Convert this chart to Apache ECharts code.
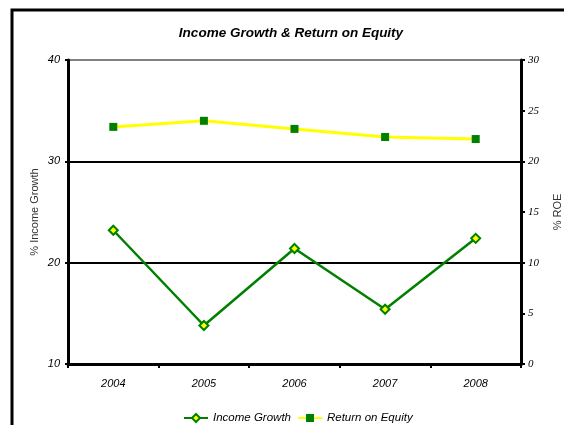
<!DOCTYPE html>
<html><head><meta charset="utf-8">
<script src="https://cdn.jsdelivr.net/npm/echarts@6/dist/echarts.min.js"></script>
<style>html,body{margin:0;padding:0;background:#fff;}#c{width:564px;height:425px;}</style>
</head><body><div id="c"></div>
<script>
var years = ['2004','2005','2006','2007','2008'];
var incomeGrowth = [23.2, 13.8, 21.4, 15.4, 22.4];
var returnOnEquity = [23.4, 24.0, 23.2, 22.4, 22.2];
var leftAxisRange = [10, 40, 10];
var rightAxisRange = [0, 30, 5];

var chart = echarts.init(document.getElementById('c'));
chart.setOption({
  animation: false,
  backgroundColor: '#fff',
  title: {
    text: 'Income Growth & Return on Equity',
    left: 286, top: 21, textAlign: 'center',
    textStyle: { fontFamily: 'Liberation Sans, sans-serif', fontStyle: 'italic', fontWeight: 'bold', fontSize: 13.5, color: '#000' }
  },
  graphic: [{
    type: 'polyline', silent: true,
    shape: { points: [[12, 440], [12, 10], [600, 10]] },
    style: { stroke: '#000', lineWidth: 3, fill: null }
  }],
  legend: {
    top: 412, left: 183, padding: 0, itemGap: 6, itemWidth: 24, itemHeight: 10,
    textStyle: { fontFamily: 'Liberation Sans, sans-serif', fontStyle: 'italic', fontSize: 11.5, color: '#000' },
    data: [{ name: 'Income Growth' }, { name: 'Return on Equity' }]
  },
  grid: { left: 68, right: 43, top: 60, bottom: 61, show: true, borderColor: '#808080', borderWidth: 2, outerBoundsMode: 'none', containLabel: false },
  xAxis: {
    type: 'category', data: years, boundaryGap: true,
    axisLine: { lineStyle: { color: '#000', width: 3 } },
    axisTick: { show: true, length: 4, lineStyle: { color: '#000', width: 2 } },
    axisLabel: { margin: 14, fontFamily: 'Liberation Sans, sans-serif', fontStyle: 'italic', fontSize: 11, color: '#000' },
    splitLine: { show: false }
  },
  yAxis: [{
    type: 'value', position: 'left', min: leftAxisRange[0], max: leftAxisRange[1], interval: leftAxisRange[2],
    name: '% Income Growth', nameLocation: 'middle', nameGap: 28, nameRotate: 90, nameMoveOverlap: false,
    nameTextStyle: { fontFamily: 'Liberation Sans, sans-serif', fontSize: 11, color: '#333' },
    axisLine: { show: true, lineStyle: { color: '#000', width: 3 } },
    axisTick: { show: true, length: 3, lineStyle: { color: '#000', width: 2 } },
    axisLabel: { margin: 8, fontFamily: 'Liberation Sans, sans-serif', fontStyle: 'italic', fontSize: 11, color: '#000' },
    splitLine: { show: true, showMinLine: false, showMaxLine: false, lineStyle: { color: '#000', width: 2 } }
  }, {
    type: 'value', position: 'right', min: rightAxisRange[0], max: rightAxisRange[1], interval: rightAxisRange[2],
    name: '% ROE', nameLocation: 'middle', nameGap: 31, nameRotate: 90,
    nameTextStyle: { fontFamily: 'Liberation Sans, sans-serif', fontSize: 11, color: '#333' },
    axisLine: { show: true, lineStyle: { color: '#000', width: 3 } },
    axisTick: { show: true, length: 4, lineStyle: { color: '#000', width: 2 } },
    axisLabel: { margin: 7, fontFamily: 'Liberation Serif, serif', fontStyle: 'italic', fontSize: 11, color: '#000' },
    splitLine: { show: false }
  }],
  series: [{
    name: 'Income Growth', type: 'line', yAxisIndex: 0, data: incomeGrowth,
    symbol: 'diamond', symbolSize: 9,
    lineStyle: { color: '#008000', width: 2.5 },
    itemStyle: { color: '#ffff00', borderColor: '#008000', borderWidth: 2 }
  }, {
    name: 'Return on Equity', type: 'line', yAxisIndex: 1, data: returnOnEquity,
    symbol: 'rect', symbolSize: 8,
    lineStyle: { color: '#ffff00', width: 3 },
    itemStyle: { color: '#008000', borderColor: '#008000', borderWidth: 0 }
  }]
});
</script></body></html>
